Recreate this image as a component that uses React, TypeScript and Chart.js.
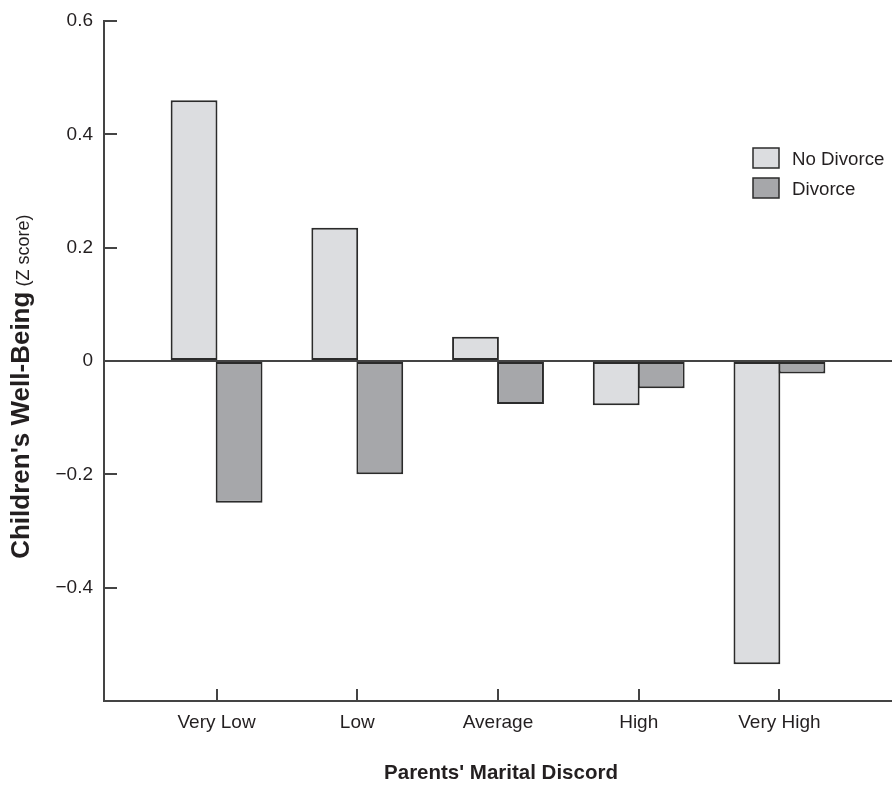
import React, { useEffect, useRef } from 'react';
import { Chart, registerables } from 'chart.js';

Chart.register(...registerables);

const categories = ['Very Low', 'Low', 'Average', 'High', 'Very High'];
const noDivorce = [0.46, 0.235, 0.043, -0.078, -0.535];
const divorce = [-0.25, -0.2, -0.076, -0.048, -0.022];
const seriesNames = ['No Divorce', 'Divorce'];
const seriesColors = ['#dcdde0', '#a6a7aa'];
const yTicks = [0.6, 0.4, 0.2, 0, -0.2, -0.4];
const yTitleBold = "Children's Well-Being";
const yTitleRegular = ' (Z score)';
const xTitle = "Parents' Marital Discord";

const FONT = '"Liberation Sans", Arial, sans-serif';
const TEXT = '#231f20';
const AXIS = '#444444';
const EDGE = '#2b2b2b';

const W = 892;
const H = 785;

function fmtY(v: number): string {
  if (Math.abs(v) < 1e-9) return '0';
  const s = Math.abs(v).toFixed(1);
  return v < 0 ? '\u2212' + s : s;
}

const overlay = {
  id: 'overlay',
  afterDraw(chart: any) {
    const { ctx, chartArea, scales } = chart;
    ctx.save();
    ctx.strokeStyle = AXIS;
    ctx.lineWidth = 2;
    ctx.beginPath();
    yTicks.forEach((v) => {
      const y = Math.round(scales.y.getPixelForValue(v));
      ctx.moveTo(chartArea.left, y);
      ctx.lineTo(chartArea.left + 13, y);
    });
    categories.forEach((_, i) => {
      const x = Math.round(scales.x.getPixelForValue(i));
      ctx.moveTo(x, chartArea.bottom);
      ctx.lineTo(x, chartArea.bottom - 12);
    });
    ctx.stroke();

    // legend
    const lx = 753;
    const ly = [148, 178];
    ctx.lineWidth = 1.5;
    ctx.textBaseline = 'middle';
    ctx.textAlign = 'left';
    ctx.font = `18.7px ${FONT}`;
    seriesNames.forEach((name, i) => {
      ctx.fillStyle = seriesColors[i];
      ctx.fillRect(lx, ly[i], 26, 20);
      ctx.strokeStyle = EDGE;
      ctx.strokeRect(lx, ly[i], 26, 20);
      ctx.fillStyle = TEXT;
      ctx.fillText(name, lx + 39, ly[i] + 12);
    });

    // x title
    ctx.font = `bold 20.5px ${FONT}`;
    ctx.textAlign = 'center';
    ctx.fillText(xTitle, 501, 773);

    // y title (rotated, mixed weight)
    ctx.translate(29, 386.7);
    ctx.rotate(-Math.PI / 2);
    ctx.textAlign = 'left';
    ctx.textBaseline = 'alphabetic';
    const bFont = `bold 26px ${FONT}`;
    const rFont = `18px ${FONT}`;
    ctx.font = bFont;
    const wb = ctx.measureText(yTitleBold).width;
    ctx.font = rFont;
    const wr = ctx.measureText(yTitleRegular).width;
    const start = -(wb + wr) / 2;
    ctx.font = bFont;
    ctx.fillText(yTitleBold, start, 0);
    ctx.font = rFont;
    ctx.fillText(yTitleRegular, start + wb, 0);
    ctx.restore();
  },
};

export default function App() {
  const ref = useRef<HTMLCanvasElement | null>(null);
  useEffect(() => {
    if (!ref.current) return;
    const chart = new Chart(ref.current, {
      type: 'bar',
      data: {
        datasets: [
          {
            label: seriesNames[0],
            data: categories.map((_, i) => ({ x: i, y: noDivorce[i] })),
            backgroundColor: seriesColors[0],
            borderColor: EDGE,
            borderWidth: 2,
            borderSkipped: false,
          },
          {
            label: seriesNames[1],
            data: categories.map((_, i) => ({ x: i, y: divorce[i] })),
            backgroundColor: seriesColors[1],
            borderColor: EDGE,
            borderWidth: 2,
            borderSkipped: false,
          },
        ],
      } as any,
      options: {
        animation: false,
        responsive: false,
        maintainAspectRatio: false,
        layout: { padding: { top: 21, left: 0, right: 0, bottom: 0 } },
        plugins: { legend: { display: false }, tooltip: { enabled: false } },
        datasets: { bar: { categoryPercentage: 0.64, barPercentage: 1.04 } },
        scales: {
          x: {
            type: 'linear',
            offset: false,
            min: -0.8,
            max: 4.8,
            afterBuildTicks: (s: any) => {
              s.ticks = categories.map((_, i) => ({ value: i }));
            },
            afterFit: (s: any) => {
              s.height = 84;
              s.paddingLeft = 0;
              s.paddingRight = 0;
            },
            ticks: {
              callback: (v: any) => categories[v as number] ?? '',
              font: { family: FONT, size: 19 },
              color: TEXT,
              padding: 10,
              autoSkip: false,
              maxRotation: 0,
            },
            grid: { display: false, drawTicks: false },
            border: { display: true, color: AXIS, width: 2 },
          },
          y: {
            min: -0.6,
            max: 0.6,
            afterBuildTicks: (s: any) => {
              s.ticks = yTicks.map((v) => ({ value: v }));
            },
            afterFit: (s: any) => {
              s.width = 104;
              s.paddingTop = 0;
              s.paddingBottom = 0;
            },
            ticks: {
              callback: (v: any) => fmtY(Number(v)),
              font: { family: FONT, size: 19 },
              color: TEXT,
              padding: 11,
              autoSkip: false,
            },
            grid: {
              drawTicks: false,
              color: (c: any) => (c.tick && Math.abs(c.tick.value) < 1e-9 ? AXIS : 'rgba(0,0,0,0)'),
              lineWidth: 2,
            },
            border: { display: true, color: AXIS, width: 2 },
          },
        },
      } as any,
      plugins: [overlay],
    });
    return () => chart.destroy();
  }, []);
  return (
    <div>
      <canvas
        ref={ref}
        width={W}
        height={H}
        style={{ display: 'block', position: 'fixed', left: 0, top: 0, width: W, height: H, background: '#ffffff' }}
      />
    </div>
  );
}
